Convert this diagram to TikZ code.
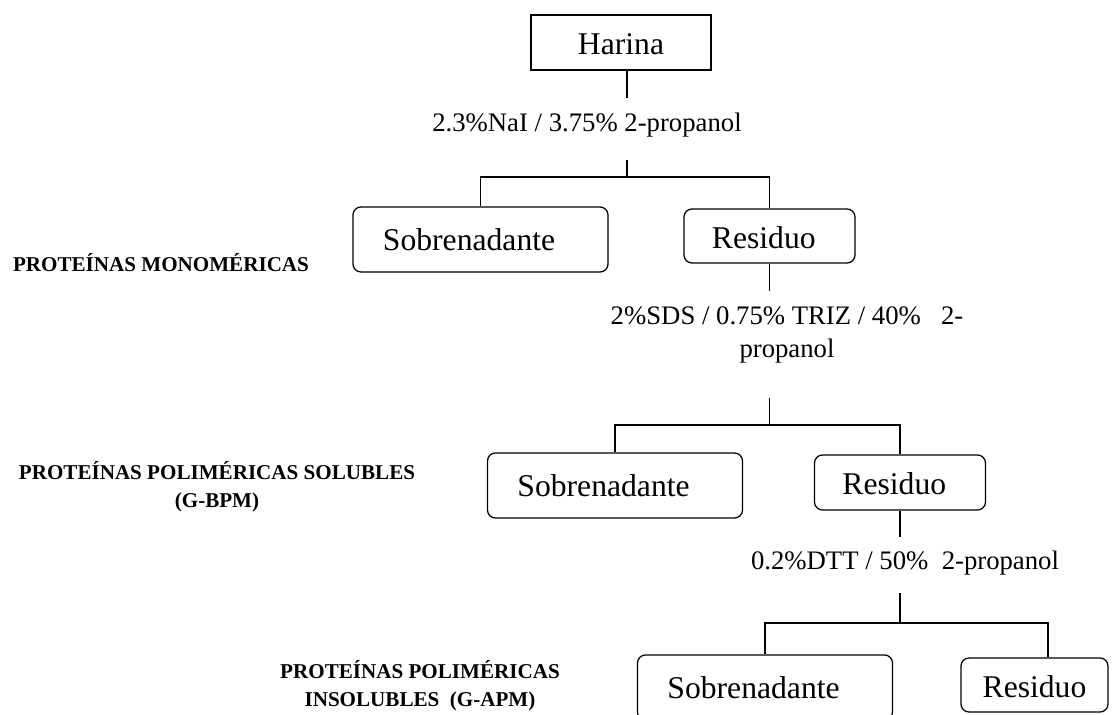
\documentclass[tikz,border=0pt]{standalone}
\usepackage{fontspec}
\setmainfont{Liberation Serif}
\usepackage{tikz}
\usetikzlibrary{positioning}

\begin{document}
\begin{tikzpicture}[
    x=0.025cm, y=-0.025cm,
    box/.style={rectangle, draw, line width=0.9pt, inner sep=0pt, font=\fontsize{22.5}{27}\selectfont},
    rbox/.style={box, rounded corners=0.2cm},
    sobbox/.style={rbox, inner xsep=0.75cm, text width=4.875cm, align=left, minimum height=1.625cm},
    resbox/.style={rbox, inner xsep=0.7cm, text width=2.875cm, align=left, text height=0.62cm, text depth=0pt},
    cond/.style={align=center, font=\fontsize{19}{24}\selectfont},
    fraction/.style={align=center, font=\bfseries\fontsize{15}{20}\selectfont},
    link/.style={line width=0.9pt},
]
\useasboundingbox (0,0) rectangle (1120,715);

% Harina
\node[box, minimum width=4.5cm, minimum height=1.375cm, text height=0.62cm, text depth=0pt] (harina) at (621,42.5) {Harina};
\node[cond] (nai) at (587,125) {2.3\%NaI / 3.75\% 2-propanol};

% First extraction
\node[sobbox] (sob1) at (480.5,239.5) {Sobrenadante};
\node[resbox, minimum height=1.35cm] (res1) at (769.5,236) {Residuo};
\node[cond] (sds) at (787,335) {2\%SDS / 0.75\% TRIZ / 40\%\ \ \ 2-\\propanol};

% Second extraction
\node[sobbox] (sob2) at (615,485.5) {Sobrenadante};
\node[resbox, minimum height=1.375cm] (res2) at (900,482.5) {Residuo};
\node[cond] (dtt) at (905,563) {0.2\%DTT / 50\%\ \ 2-propanol};

% Third extraction
\node[sobbox] (sob3) at (765,687.5) {Sobrenadante};
\node[rbox, minimum width=3.675cm, minimum height=1.35cm, text height=0.62cm, text depth=0pt] (res3) at (1034.5,685) {Residuo};

% Fractions
\node[fraction] (mono) at (161,263) {PROTEÍNAS MONOMÉRICAS};
\node[fraction] (sol) at (217,487) {PROTEÍNAS POLIMÉRICAS SOLUBLES\\(G-BPM)};
\node[fraction] (insol) at (420,686) {PROTEÍNAS POLIMÉRICAS\\INSOLUBLES\ \ (G-APM)};

% Junctions
\coordinate (h1) at (627,98);
\coordinate (h2) at (627,160);
\coordinate (j1) at (627,177);
\coordinate (a1) at (769.5,291);
\coordinate (a2) at (769.5,398);
\coordinate (j2) at (769.5,425);
\coordinate (b1) at (900,537);
\coordinate (b2) at (900,593);
\coordinate (j3) at (900,623);
\coordinate (k3) at (1048,623);

% Connectors
\draw[link] (harina.south -| j1) -- (h1);
\draw[link] (h2) -- (j1);
\draw[link] (sob1.north) |- (j1) -| (res1.north);
\draw[link] (res1.south) -- (a1);
\draw[link] (a2) -- (j2);
\draw[link] (sob2.north) |- (j2) -| (res2.north);
\draw[link] (res2.south) -- (b1);
\draw[link] (b2) -- (j3);
\draw[link] (sob3.north) |- (j3) -- (k3) -- (k3 |- res3.north);
\end{tikzpicture}
\end{document}
